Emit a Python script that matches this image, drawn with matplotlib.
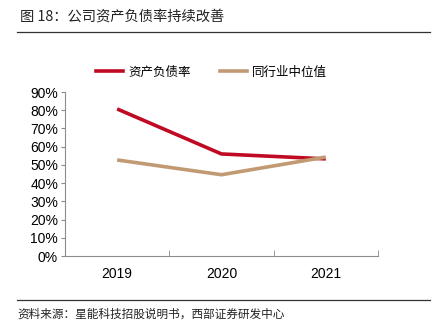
import matplotlib
matplotlib.use("Agg")
import matplotlib.pyplot as plt
from matplotlib.lines import Line2D

plt.rcParams['font.family'] = ['Liberation Sans', 'Noto Sans CJK SC', 'DejaVu Sans']

# data
years = ["2019", "2020", "2021"]
debt_ratio = [80.7, 56.0, 53.3]      # 资产负债率 (%)
peer_median = [52.7, 44.6, 54.3]     # 同行业中位值 (%)
yticks = [0, 10, 20, 30, 40, 50, 60, 70, 80, 90]

red = "#C00A23"
tan = "#C19A74"
gray = "#8C8C8C"

fig = plt.figure(figsize=(4.36, 3.27), dpi=100)
ax = fig.add_axes([65 / 436, 1 - 256 / 327, 313 / 436, 164 / 327])

x = list(range(len(years)))
ax.plot(x, debt_ratio, color=red, lw=2.6, solid_capstyle='butt')
ax.plot(x, peer_median, color=tan, lw=2.6, solid_capstyle='butt')

ax.set_xlim(-0.5, len(years) - 0.5)
ax.set_ylim(0, 90)
ax.set_yticks(yticks)
ax.set_yticklabels([f"{v}%" for v in yticks])
ax.set_xticks(x)
ax.set_xticklabels(years)
ax.set_xticks([i + 0.5 for i in x], minor=True)

for s in ["top", "right"]:
    ax.spines[s].set_visible(False)
for s in ["left", "bottom"]:
    ax.spines[s].set_color(gray)
    ax.spines[s].set_linewidth(0.8)

ax.tick_params(axis='y', direction='out', length=3, color=gray, labelsize=10, pad=2)
ax.tick_params(axis='x', which='major', length=0, labelsize=10, pad=8)
ax.tick_params(axis='x', which='minor', direction='in', length=4, color=gray)

# legend
handles = [Line2D([], [], color=red, lw=2.6), Line2D([], [], color=tan, lw=2.6)]
fig.legend(handles, ["资产负债率", "同行业中位值"], loc='center', bbox_to_anchor=(0.485, 1 - 72 / 327),
           ncol=2, frameon=False, handlelength=2.2, columnspacing=2.3,
           handletextpad=0.4, prop={'family': ['Noto Sans CJK SC'], 'size': 9})

# title, source and rules
fig.text(20 / 436, 1 - 17 / 327, "图 18：公司资产负债率持续改善", fontsize=10.3, va='center', ha='left',
         family=['Noto Sans CJK SC'], color="#222222")
fig.add_artist(Line2D([17 / 436, 430 / 436], [1 - 32 / 327] * 2, color="#333333", lw=0.9))
fig.add_artist(Line2D([17 / 436, 430 / 436], [1 - 300 / 327] * 2, color="#333333", lw=0.9))
fig.text(17 / 436, 1 - 314 / 327, "资料来源：星能科技招股说明书，西部证券研发中心", fontsize=8.4, va='center',
         ha='left', family=['Noto Sans CJK SC'], color="#222222")

fig.savefig("out.png", dpi=100)
